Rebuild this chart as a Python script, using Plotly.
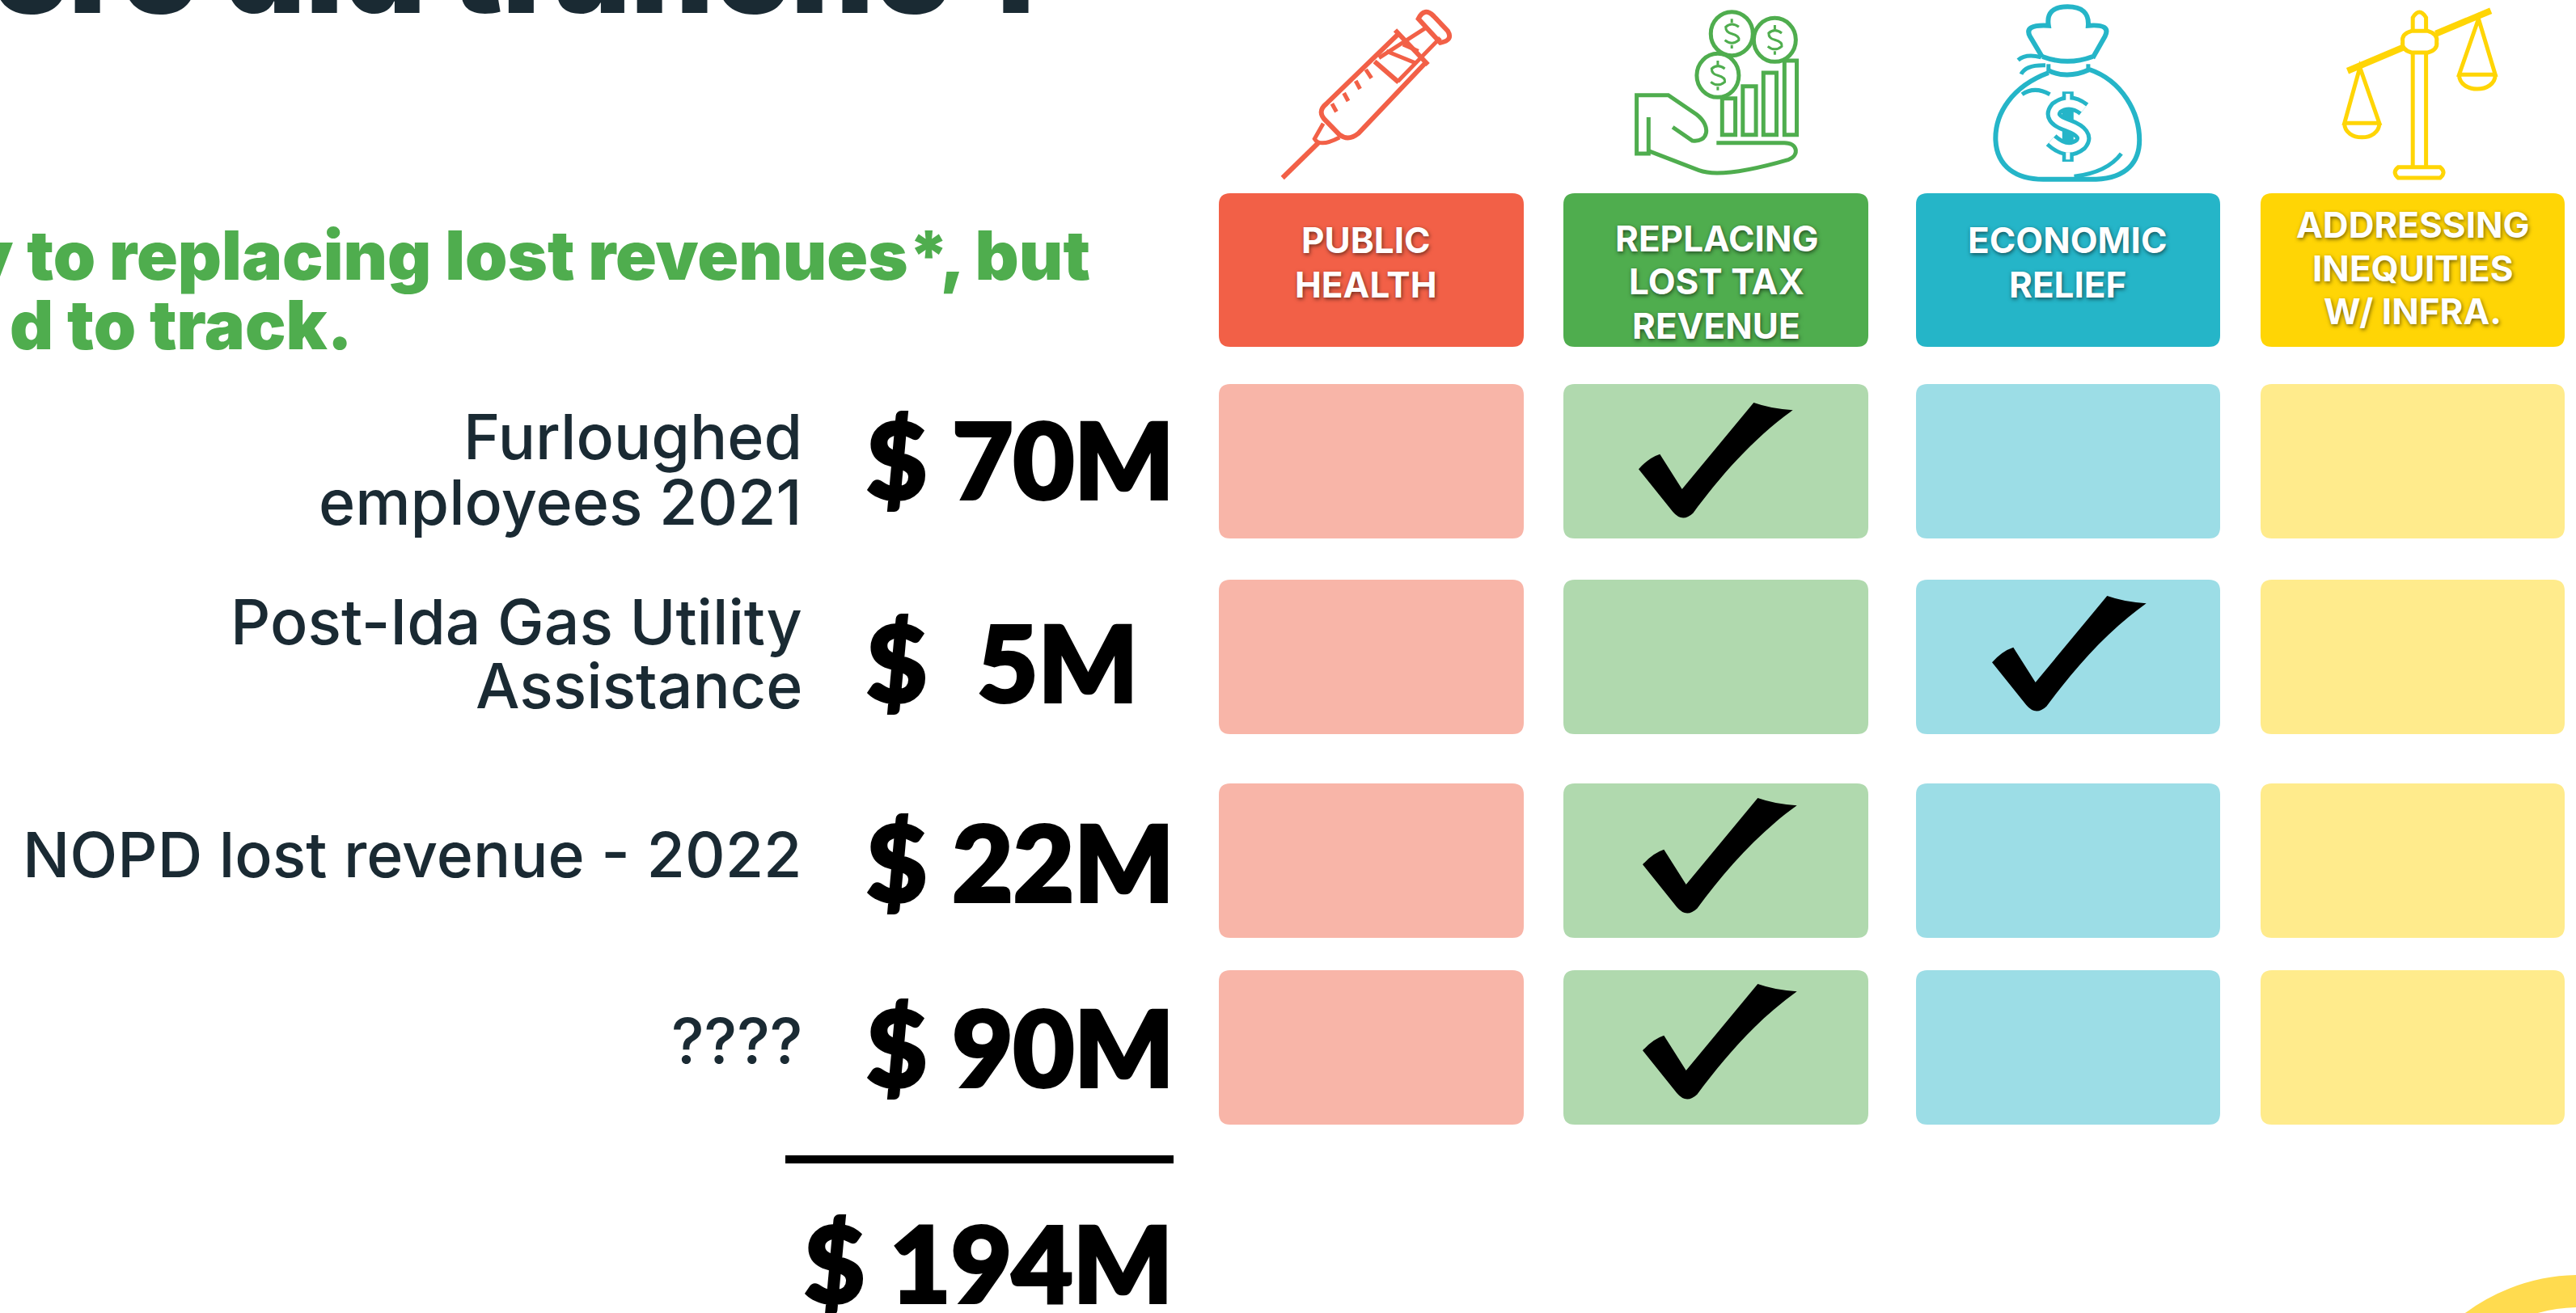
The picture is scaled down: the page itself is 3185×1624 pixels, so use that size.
import plotly.graph_objects as go

W, H = 3185, 1624

# ---------- data ----------
CATEGORIES = [["PUBLIC", "HEALTH"], ["REPLACING", "LOST TAX", "REVENUE"],
              ["ECONOMIC", "RELIEF"], ["ADDRESSING", "INEQUITIES", "W/ INFRA."]]
ROW_LABELS = [["Furloughed", "employees 2021"], ["Post-Ida Gas Utility", "Assistance"],
              ["NOPD lost revenue - 2022"], ["????"]]
AMOUNTS_M = [70, 5, 22, 90]
TOTAL_M = 194
CHECKED_COLUMN = [1, 2, 1, 1]
TITLE = "ere did tranche 1"
SUBTITLE = ["y to replacing lost revenues*, but", "d to track."]

# ---------- layout constants ----------
COL_EDGES = [(1507, 1884), (1933, 2310), (2369, 2745), (2795, 3171)]
ROW_EDGES = [(475, 666), (717, 908), (969, 1160), (1200, 1391)]
HEAD_Y = (239, 429)
STRONG = ["#F26047", "#4FAD4E", "#25B5C8", "#FFD505"]
LIGHT = ["#F8B5A8", "#B0D9AE", "#9CDDE6", "#FFEB8C"]
HEAD_CX = [1689, 2122, 2556, 2983]
HEAD_BASE = [[314, 369], [312, 365, 420], [314, 369], [295, 349, 402]]
LABEL_BASE = [[569, 650], [798, 877], [1086], [1316]]
VALUE_CY = [569, 820, 1067, 1296]
CHECK_OFF = [(93, 23), (94, 20), (98, 18), (98, 17)]
INK = "#1A2A33"
GREEN = "#4FAD4E"

FONT = "Inter"
shapes, annotations = [], []


def rrect(x0, y0, x1, y1, r):
    return (f"M{x0+r},{y0} L{x1-r},{y0} Q{x1},{y0} {x1},{y0+r} L{x1},{y1-r} Q{x1},{y1} {x1-r},{y1} "
            f"L{x0+r},{y1} Q{x0},{y1} {x0},{y1-r} L{x0},{y0+r} Q{x0},{y0} {x0+r},{y0} Z")


def fill_path(path, color):
    shapes.append(dict(type="path", path=path, fillcolor=color, line=dict(width=0), xref="x", yref="y"))


def stroke(path, color, width=5):
    shapes.append(dict(type="path", path=path, line=dict(color=color, width=width), xref="x", yref="y"))


def ellipse(cx, cy, rx, ry, color, width=5, fill=None):
    shapes.append(dict(type="circle", x0=cx-rx, x1=cx+rx, y0=cy-ry, y1=cy+ry, xref="x", yref="y",
                       line=dict(color=color, width=width), fillcolor=fill))


def text(s, x, base, size, color, anchor, weight=400, shadow=None, family=FONT):
    # position is given as a text baseline; the annotation box is centred on its anchor
    f = dict(family=family, size=size, color=color, weight=weight)
    if shadow:
        f["shadow"] = shadow
    cy = base - 0.38 * size
    # keep the anchor point in range so partly cut-off text is still drawn
    y = max(cy, 0)
    annotations.append(dict(text=s, x=x, y=y, yshift=y - cy, xref="x", yref="y", xanchor=anchor,
                            yanchor="middle", showarrow=False, font=f, borderpad=0))


def p(ox, sx, spec):
    """spec: list of tokens: letter or (x,y) in crop coordinates"""
    out = []
    for t in spec:
        if isinstance(t, str):
            out.append(t)
        else:
            out.append(f"{ox + t[0] / sx:.1f},{t[1] / 3:.1f}")
    return " ".join(out).replace("M ", "M").replace("L ", "L").replace("Q ", "Q").replace("C ", "C")


# ---------- cells ----------
for c, (x0, x1) in enumerate(COL_EDGES):
    fill_path(rrect(x0, HEAD_Y[0], x1, HEAD_Y[1], 14), STRONG[c])
    for (y0, y1) in ROW_EDGES:
        fill_path(rrect(x0, y0, x1, y1, 14), LIGHT[c])

# ---------- check marks ----------
CHECK = ["M", (0, 247), "Q", (37, 205), (79, 191), "L", (161, 321), "L", (427, 0), "Q", (492, 23), (572, 28),
         "C", (422, 135), (302, 275), (202, 410), "Q", (162, 447), (127, 405), "L", (0, 247), "Z"]
for r, c in enumerate(CHECKED_COLUMN):
    ox = COL_EDGES[c][0] + CHECK_OFF[r][0]
    oy = ROW_EDGES[r][0] + CHECK_OFF[r][1]
    tok = []
    for t in CHECK:
        tok.append(t if isinstance(t, str) else f"{ox + t[0] / 3:.1f},{oy + t[1] / 3:.1f}")
    fill_path(" ".join(tok).replace("M ", "M").replace("L ", "L").replace("Q ", "Q").replace("C ", "C"), "#000000")

# ---------- icons ----------
RED, GR, TE, YE = STRONG
A = lambda spec: p(1480, 1.845, spec)
# syringe
stroke(A(["M", (195, 660), "L", (278, 528)]), RED, 6)
stroke(A(["M", (288, 458), "L", (268, 515), "Q", (280, 548), (325, 510)]), RED, 5)
stroke(A(["M", (460, 125), "L", (295, 385), "Q", (272, 415), (295, 450), "L", (325, 500), "Q", (345, 525), (368, 495), "L", (522, 232)]), RED, 6)
stroke(A(["M", (452, 112), "L", (527, 240)]), RED, 6)
stroke(A(["M", (405, 228), "L", (460, 305)]), RED, 6)
stroke(A(["M", (415, 215), "L", (525, 100)]), RED, 5)
stroke(A(["M", (458, 302), "L", (555, 140)]), RED, 5)
stroke(A(["M", (432, 190), "L", (500, 235)]), RED, 5)
stroke(A(["M", (470, 165), "L", (505, 190)]), RED, 5)
stroke(A(["M", (505, 70), "Q", (518, 25), (540, 60), "L", (572, 115), "Q", (585, 150), (555, 158), "L", (505, 70), "Z"]), RED, 6)
for a, b in [((385, 258), (398, 290)), ((362, 300), (372, 330)), ((335, 345), (345, 375)), ((308, 385), (318, 415))]:
    stroke(A(["M", a, "L", b]), RED, 5)
# hand, bars, coins
stroke(A(["M", (1030, 435), "L", (1030, 570), "L", (1003, 570), "L", (1003, 353), "L", (1075, 353), "L", (1140, 425),
          "C", (1175, 470), (1165, 530), (1130, 522), "L", (1085, 472)]), GR, 5)
stroke(A(["M", (1030, 560), "L", (1145, 632), "C", (1190, 660), (1290, 620), (1350, 592), "C", (1375, 575), (1370, 530), (1340, 530), "L", (1185, 530)]), GR, 5)
for x0, x1, top in [(1198, 1228, 365), (1245, 1275, 320), (1292, 1322, 270), (1340, 1368, 225)]:
    stroke(A(["M", (x0, top), "L", (x1, top), "L", (x1, 500), "L", (x0, 500), "Z"]), GR, 5)
for cx, cy in [(1220, 125), (1318, 148), (1188, 280)]:
    ellipse(1480 + cx / 1.845, cy / 3, 26, 27, GR, 5)
    stroke(A(["M", (cx + 16, cy - 25), "Q", (cx, cy - 45), (cx - 14, cy - 25), "Q", (cx - 14, cy - 5), (cx, cy),
              "Q", (cx + 18, cy + 8), (cx + 16, cy + 24), "Q", (cx, cy + 45), (cx - 16, cy + 24)]), GR, 3)
    stroke(A(["M", (cx, cy - 55), "L", (cx, cy - 40)]), GR, 3)
    stroke(A(["M", (cx, cy + 42), "L", (cx, cy + 55)]), GR, 3)
# money bag
B = lambda spec: p(2330, 1.834, spec)
stroke(B(["M", (372, 270), "C", (290, 320), (250, 420), (252, 520), "C", (255, 620), (300, 665), (360, 665), "L", (480, 665),
          "C", (550, 660), (578, 600), (578, 520), "C", (578, 420), (540, 300), (465, 258)]), TE, 6)
stroke(B(["M", (358, 212), "L", (330, 135), "Q", (315, 90), (372, 95), "Q", (365, 25), (415, 25), "Q", (465, 25), (462, 95),
          "Q", (515, 88), (500, 135), "L", (472, 215)]), TE, 6)
stroke(B(["M", (358, 210), "Q", (415, 245), (472, 210)]), TE, 6)
stroke(B(["M", (372, 262), "Q", (415, 295), (465, 258)]), TE, 6)
stroke(B(["M", (372, 238), "L", (372, 265)]), TE, 5)
stroke(B(["M", (462, 238), "L", (462, 260)]), TE, 5)
stroke(B(["M", (303, 223), "Q", (320, 198), (355, 212)]), TE, 5)
stroke(B(["M", (310, 275), "Q", (320, 240), (365, 242)]), TE, 5)
stroke(B(["M", (312, 350), "Q", (340, 318), (375, 350)]), TE, 5)
stroke(B(["M", (537, 570), "Q", (505, 640), (430, 655)]), TE, 5)
S = ["M", (452, 405), "Q", (420, 365), (390, 400), "Q", (370, 440), (415, 465), "Q", (465, 495), (445, 535), "Q", (415, 575), (378, 520)]
stroke(B(S), TE, 19)
stroke(B(["M", (416, 340), "L", (416, 600)]), TE, 14)
stroke(B(["M", (416, 348), "L", (416, 375)]), "#FFFFFF", 5)
stroke(B(["M", (416, 565), "L", (416, 592)]), "#FFFFFF", 5)
stroke(B(S), "#FFFFFF", 9)
# scales
stroke(B(["M", (1050, 263), "L", (1178, 175)]), YE, 8)
stroke(B(["M", (1250, 125), "L", (1375, 40)]), YE, 8)
stroke(B(["M", (1198, 195), "L", (1198, 620)]), YE, 5)
stroke(B(["M", (1228, 195), "L", (1228, 620)]), YE, 5)
stroke(B(["M", (1198, 112), "L", (1198, 65), "Q", (1213, 25), (1228, 65), "L", (1228, 112)]), YE, 5)
stroke(B(["M", (1195, 115), "L", (1232, 115), "Q", (1255, 125), (1252, 155), "Q", (1255, 185), (1232, 195), "L", (1195, 195),
          "Q", (1172, 185), (1175, 155), "Q", (1172, 125), (1195, 115), "Z"]), YE, 5)
stroke(B(["M", (1165, 620), "L", (1260, 620), "Q", (1275, 640), (1260, 660), "L", (1165, 660), "Q", (1150, 640), (1165, 620), "Z"]), YE, 5)
for tipx, tipy, lx, rx, by, bot in [(1078, 250, 1043, 1122, 457, 527), (1347, 70, 1303, 1385, 277, 348)]:
    stroke(B(["M", (lx, by), "L", (tipx, tipy), "L", (rx, by), "Z"]), YE, 5)
    stroke(B(["M", (lx, by), "C", (lx, bot), (rx, bot), (rx, by)]), YE, 5)

# corner ring
ellipse(3190, 1815, 218, 218, "#FFDB4F", 40)

# total rule
shapes.append(dict(type="line", x0=971, x1=1451, y0=1434, y1=1434, xref="x", yref="y", line=dict(color="#000000", width=10)))

# ---------- text ----------
text(TITLE, 1280, 19, 158, INK, "right", 900)
text(SUBTITLE[0], 1349, 347, 84, GREEN, "right", 900)
text(SUBTITLE[1], 437, 433, 84, GREEN, "right", 900)
for lines, bases in zip(ROW_LABELS, LABEL_BASE):
    for s, b in zip(lines, bases):
        text(s, 993, b, 77, INK, "right", 500)
for v, cy in zip(AMOUNTS_M, VALUE_CY):
    gap = "\u00a0\u00a0" if v < 10 else "\u00a0"
    text(f"${gap}{v}M", 1070, cy + 47, 130, "#000000", "left", 900, family="Lato")
text(f"$\u00a0{TOTAL_M}M", 1451, 1610, 130, "#000000", "right", 900, family="Lato")
for cx, lines, bases in zip(HEAD_CX, CATEGORIES, HEAD_BASE):
    for s, b in zip(lines, bases):
        text(s, cx, b, 44, "#FFFFFF", "center", 700, shadow="1px 2px 5px rgba(0,0,0,0.55)")

fig = go.Figure()
fig.update_layout(width=W, height=H, margin=dict(l=0, r=0, t=0, b=0), paper_bgcolor="#FFFFFF", plot_bgcolor="#FFFFFF",
                  xaxis=dict(range=[0, W], visible=False, fixedrange=True),
                  yaxis=dict(range=[H, 0], visible=False, fixedrange=True),
                  shapes=shapes, annotations=annotations, showlegend=False)
# page has no body margin; the heavy money figures get a thin outline to reach the reference's black weight
POST = """
document.body.style.margin='0';document.body.style.overflow='hidden';
document.querySelectorAll('text.annotation-text').forEach(function(t){
  if(t.textContent.charAt(0)==='$'){t.style.stroke='#000';t.style.strokeWidth='4px';}
});
"""
fig.write_html("out.html", config=dict(displayModeBar=False), post_script=POST)
